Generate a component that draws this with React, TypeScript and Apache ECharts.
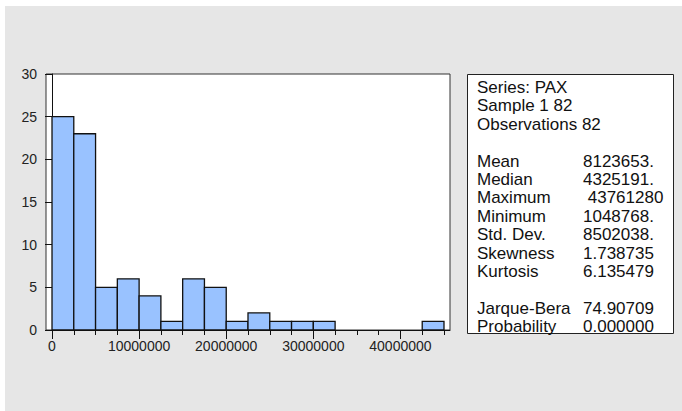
import React, { useEffect, useRef } from "react";
import * as echarts from "echarts";

// Histogram data (bin width 2,500,000)
const binStarts = [
  0, 2500000, 5000000, 7500000, 10000000, 12500000, 15000000, 17500000, 20000000,
  22500000, 25000000, 27500000, 30000000, 32500000, 35000000, 37500000, 40000000, 42500000,
];
const binWidth = 2500000;
const counts = [25, 23, 5, 6, 4, 1, 6, 5, 1, 2, 1, 1, 1, 0, 0, 0, 0, 1];

const minorTicks = [
  0, 2500000, 5000000, 7500000, 10000000, 12500000, 15000000, 17500000, 20000000,
  22500000, 25000000, 27500000, 30000000, 32500000, 35000000, 37500000, 40000000, 42500000, 45000000,
];
const majorTicks = [0, 10000000, 20000000, 30000000, 40000000];

const headerLines = ["Series: PAX", "Sample 1 82", "Observations 82"];
const statLabels = ["Mean", "Median", "Maximum", "Minimum", "Std. Dev.", "Skewness", "Kurtosis"];
const statValues = ["8123653.", "4325191.", "\u00a043761280", "1048768.", "8502038.", "1.738735", "6.135479"];
const testLabels = ["Jarque-Bera", "Probability"];
const testValues = ["74.90709", "0.000000"];

const FONT = '"Liberation Sans", Arial, sans-serif';

export default function App() {
  const ref = useRef<HTMLDivElement>(null);

  useEffect(() => {
    if (!ref.current) return;
    const chart = echarts.init(ref.current, undefined, { renderer: "svg" });

    const barData = binStarts
      .map((s, i) => [s, s + binWidth, counts[i]])
      .filter((d) => d[2] > 0);

    const lineY = (i: number) => 87.5 + 18.4 * i;
    const textStyle = (text: string, x: number, y: number) => ({
      type: "text",
      x,
      y,
      style: {
        text,
        font: `17px ${FONT}`,
        fill: "#111",
        verticalAlign: "middle",
        align: "left",
      },
    });

    const texts: any[] = [];
    headerLines.forEach((t, i) => texts.push(textStyle(t, 477, lineY(i))));
    statLabels.forEach((t, i) => {
      texts.push(textStyle(t, 477, lineY(4 + i)));
      texts.push(textStyle(statValues[i], 583, lineY(4 + i)));
    });
    testLabels.forEach((t, i) => {
      texts.push(textStyle(t, 477, lineY(12 + i)));
      texts.push(textStyle(testValues[i], 583, lineY(12 + i)));
    });

    const xMin = -690000;
    const xMax = 45690000;

    chart.setOption({
      animation: false,
      backgroundColor: "transparent",
      grid: {
        left: 46,
        top: 74,
        width: 404,
        height: 256,
        show: true,
        backgroundColor: "#ffffff",
        borderColor: "#333",
        borderWidth: 1,
      },
      xAxis: [
        {
          type: "value",
          min: xMin,
          max: xMax,
          position: "bottom",
          axisLine: { show: true, onZero: false, lineStyle: { color: "#111", width: 1 } },
          axisTick: {
            show: true,
            inside: false,
            length: 5,
            customValues: minorTicks,
            lineStyle: { color: "#111", width: 1 },
          },
          axisLabel: { show: false },
          splitLine: { show: false },
        },
        {
          type: "value",
          min: xMin,
          max: xMax,
          position: "bottom",
          offset: 0,
          axisLine: { show: false, onZero: false },
          axisTick: {
            show: true,
            inside: false,
            length: 9,
            customValues: majorTicks,
            lineStyle: { color: "#111", width: 1 },
          },
          axisLabel: {
            show: true,
            customValues: majorTicks,
            fontSize: 14,
            fontFamily: FONT,
            color: "#222",
            margin: 9,
            formatter: (v: number) => String(Math.round(v)),
          },
          splitLine: { show: false },
        },
      ],
      yAxis: {
        type: "value",
        min: 0,
        max: 30,
        interval: 5,
        axisLine: { show: true, lineStyle: { color: "#111", width: 1 } },
        axisTick: { show: true, inside: false, length: 7, lineStyle: { color: "#111" } },
        axisLabel: { fontSize: 14, fontFamily: FONT, color: "#222", margin: 9 },
        splitLine: { show: false },
      },
      series: [
        {
          type: "custom",
          xAxisIndex: 0,
          yAxisIndex: 0,
          encode: { x: [0, 1], y: 2 },
          data: barData,
          renderItem: (params: any, api: any) => {
            const p0 = api.coord([api.value(0), api.value(2)]);
            const p1 = api.coord([api.value(1), 0]);
            return {
              type: "rect",
              shape: { x: p0[0], y: p0[1], width: p1[0] - p0[0], height: p1[1] - p0[1] },
              style: { fill: "#99c2ff", stroke: "#111", lineWidth: 1.3 },
            };
          },
        },
      ],
      graphic: [
        {
          type: "rect",
          shape: { x: 467.5, y: 74.5, width: 206, height: 259 },
          style: { fill: "#ffffff", stroke: "#222", lineWidth: 1 },
        },
        ...texts,
      ],
    });

    return () => chart.dispose();
  }, []);

  return (
    <div style={{ position: "fixed", left: 0, top: 0, width: 682, height: 411, background: "#ffffff" }}>
      <div
        style={{ position: "absolute", left: 5, top: 6, width: 677, height: 405, background: "#e6e6e6" }}
      />
      <div ref={ref} style={{ position: "absolute", left: 0, top: 0, width: 682, height: 411 }} />
    </div>
  );
}
